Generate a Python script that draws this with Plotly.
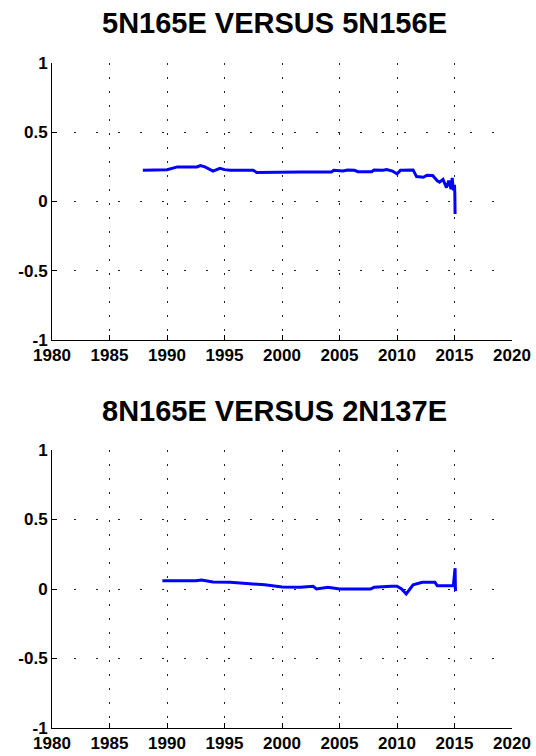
import plotly.graph_objects as go

# ---- data ----
top_title = "5N165E VERSUS 5N156E"
bottom_title = "8N165E VERSUS 2N137E"

top_years = [1987.9, 1989.5, 1990.0, 1990.9, 1992.6, 1992.9, 1993.3, 1994.0, 1994.6, 1995.0,
             1995.5, 1997.5, 1997.8, 2001.6, 2004.3, 2004.5, 2005.3, 2005.7, 2006.3, 2006.6,
             2007.8, 2008.0, 2008.8, 2009.1, 2009.6, 2010.0, 2010.3, 2011.4, 2011.7, 2012.3,
             2012.6, 2013.1, 2013.5, 2013.7, 2014.0, 2014.3, 2014.5, 2014.7, 2014.8, 2014.9,
             2015.0, 2015.03, 2015.05]
top_vals = [0.225, 0.225, 0.23, 0.25, 0.25, 0.26, 0.25, 0.22, 0.24, 0.23,
            0.225, 0.225, 0.21, 0.213, 0.213, 0.225, 0.22, 0.228, 0.225, 0.215,
            0.215, 0.228, 0.225, 0.23, 0.22, 0.20, 0.225, 0.228, 0.18, 0.175,
            0.19, 0.188, 0.15, 0.14, 0.16, 0.10, 0.15, 0.09, 0.17, 0.08,
            0.12, 0.05, -0.09]

bot_years = [1989.6, 1991.0, 1992.5, 1993.0, 1994.0, 1995.5, 1997.0, 1998.5, 2000.0, 2001.6,
             2002.7, 2003.0, 2004.0, 2005.0, 2007.7, 2008.0, 2009.5, 2010.0, 2010.4, 2010.8,
             2011.4, 2012.2, 2013.3, 2013.5, 2014.9, 2015.05, 2015.08, 2015.1]
bot_vals = [0.06, 0.058, 0.06, 0.065, 0.05, 0.048, 0.04, 0.03, 0.015, 0.012,
            0.02, 0.0, 0.012, 0.0, 0.0, 0.012, 0.02, 0.02, 0.0, -0.036,
            0.03, 0.048, 0.048, 0.024, 0.024, 0.15, 0.0, -0.015]

x_ticks = [1980, 1985, 1990, 1995, 2000, 2005, 2010, 2015, 2020]
y_ticks = [-1, -0.5, 0, 0.5, 1]
y_ticklabels = ["-1", "-0.5", "0", "0.5", "1"]

W, H = 536, 756
fig = go.Figure()
fig.add_trace(go.Scatter(x=top_years, y=top_vals, mode="lines",
                         line=dict(color="#0000FF", width=3), xaxis="x", yaxis="y",
                         showlegend=False))
fig.add_trace(go.Scatter(x=bot_years, y=bot_vals, mode="lines",
                         line=dict(color="#0000FF", width=3), xaxis="x2", yaxis="y2",
                         showlegend=False))

tickfont = dict(family="Liberation Sans, Arial", size=17, color="black", weight="bold")
xd = [52 / W, 512 / W]

def xax(anchor):
    return dict(domain=xd, range=[1980, 2020], tickvals=x_ticks, ticktext=[str(t) for t in x_ticks],
                showline=True, linecolor="black", linewidth=1, mirror=False,
                ticks="inside", ticklen=5, tickcolor="black", automargin=False,
                showgrid=True, gridcolor="#222", gridwidth=1, griddash="2px,12px",
                zeroline=False, tickfont=tickfont, anchor=anchor, ticklabelstandoff=0)

def yax(dom, anchor):
    return dict(domain=dom, range=[-1, 1], tickvals=y_ticks, ticktext=y_ticklabels,
                showline=True, linecolor="black", linewidth=1, mirror=False,
                ticks="inside", ticklen=5, tickcolor="black", automargin=False,
                showgrid=True, gridcolor="#222", gridwidth=1, griddash="2px,20px",
                zeroline=False, tickfont=tickfont, anchor=anchor, ticklabelstandoff=0)

fig.update_layout(
    width=W, height=H, margin=dict(l=0, r=0, t=0, b=0, autoexpand=False),
    paper_bgcolor="white", plot_bgcolor="white",
    xaxis=xax("y"), yaxis=yax([1 - 340 / H, 1 - 63 / H], "x"),
    xaxis2=xax("y2"), yaxis2=yax([1 - 728 / H, 1 - 450 / H], "x2"),
    annotations=[
        dict(text=top_title, x=274 / W, y=1 - 23 / H, xref="paper", yref="paper",
             showarrow=False, xanchor="center", yanchor="middle",
             font=dict(family="Liberation Sans, Arial", size=29, color="black", weight="bold")),
        dict(text=bottom_title, x=274 / W, y=1 - 411 / H, xref="paper", yref="paper",
             showarrow=False, xanchor="center", yanchor="middle",
             font=dict(family="Liberation Sans, Arial", size=29, color="black", weight="bold")),
    ],
)

fig.write_html("out.html")
